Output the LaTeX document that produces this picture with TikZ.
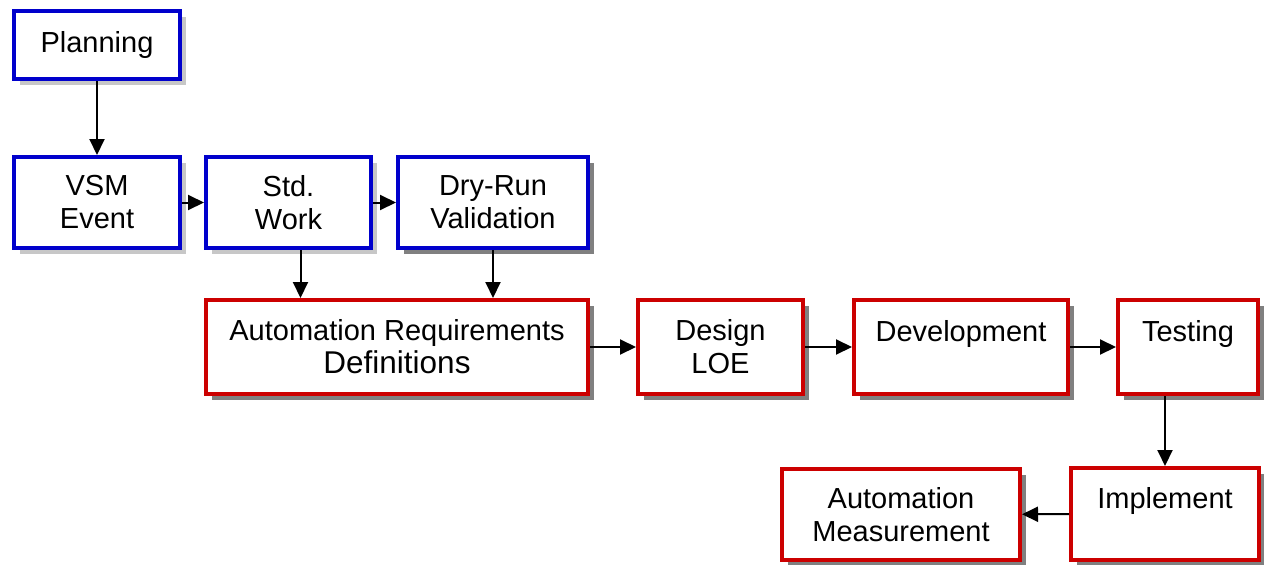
\documentclass[tikz,border=0pt]{standalone}
\usepackage{fontspec}
\setmainfont{Liberation Sans}
\usetikzlibrary{arrows.meta,shadows}
\definecolor{boxblue}{RGB}{0,0,204}
\definecolor{boxred}{RGB}{204,0,0}
\begin{document}
\begin{tikzpicture}[x=1pt,y=-1pt,
        stage/.style={draw,fill=white,line width=4pt,align=center,inner sep=0pt,
                font=\fontsize{29}{33}\selectfont},
        bluestage/.style={stage,draw=boxblue,
                drop shadow={shadow xshift=6pt,shadow yshift=-6pt,fill=black!22,opacity=1}},
        darkblue/.style={stage,draw=boxblue,
                drop shadow={shadow xshift=6pt,shadow yshift=-6pt,fill=black!50,opacity=1}},
        redstage/.style={stage,draw=boxred,
                drop shadow={shadow xshift=6pt,shadow yshift=-6pt,fill=black!50,opacity=1}},
        flow/.style={line width=2pt,-{Triangle[length=16pt,width=15pt]}}]
        \useasboundingbox[fill=white] (0,0) rectangle (1264,565);
        \node[bluestage,minimum width=166pt,minimum height=68pt] (plan) at (97,45) {Planning};
        \node[bluestage,minimum width=166pt,minimum height=91pt] (vsm) at (97,202.5) {VSM\\Event};
        \node[bluestage,minimum width=165pt,minimum height=91pt] (std) at (288.5,202.5) {Std.\\Work};
        \node[darkblue,minimum width=190pt,minimum height=91pt] (dry) at (493,202.5) {Dry-Run\\Validation};
        \node[redstage,minimum width=382pt,minimum height=94pt] (ard) at (397,347)
                {Automation Requirements\\{\fontsize{31.5}{33}\selectfont Definitions}};
        \node[redstage,minimum width=165pt,minimum height=94pt] (loe) at (720.5,347) {Design\\LOE};
        \node[redstage,minimum width=214pt,minimum height=94pt] (dev) at (961,347) {Development\\~};
        \node[redstage,minimum width=140pt,minimum height=94pt] (test) at (1188,347) {Testing\\~};
        \node[redstage,minimum width=188pt,minimum height=92pt] (impl) at (1165,514) {Implement\\~};
        \node[redstage,minimum width=238pt,minimum height=91pt] (meas) at (901,514.5) {Automation\\Measurement};
        \draw[flow] (plan) -- (vsm);
        \draw[flow] (vsm) -- (std);
        \draw[flow] (std) -- (dry);
        \draw[flow] ([xshift=12pt]std.south) -- ([xshift=12pt]std.south |- ard.north);
        \draw[flow] (dry) -- (dry |- ard.north);
        \draw[flow] (ard) -- (loe);
        \draw[flow] (loe) -- (dev);
        \draw[flow] (dev) -- (test);
        \draw[flow] ([xshift=-23pt]test.south) -- ([xshift=-23pt]test.south |- impl.north);
        \draw[flow] (impl) -- (meas);
\end{tikzpicture}
\end{document}
